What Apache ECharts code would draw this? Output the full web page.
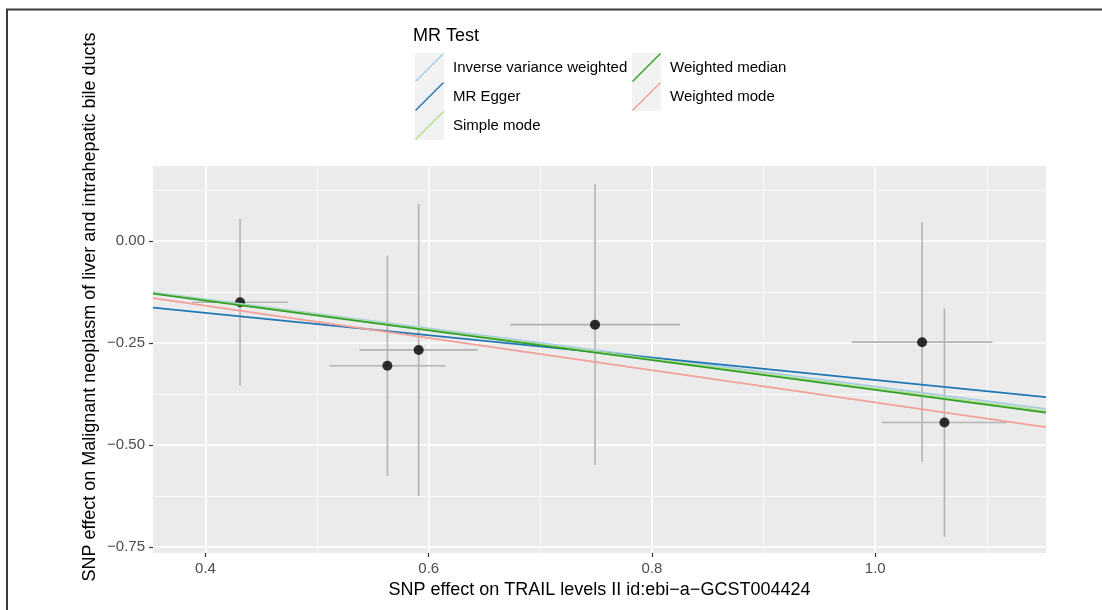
<!DOCTYPE html>
<html>
<head>
<meta charset="utf-8">
<style>
  html, body { margin: 0; padding: 0; background: #fff; }
  #chart { width: 1102px; height: 610px; }
</style>
<script src="https://cdn.jsdelivr.net/npm/echarts@6/dist/echarts.min.js"></script>
</head>
<body>
<div id="chart"></div>
<script>
  // SNP effects (exposure on x, outcome on y) and their standard errors
  const snpX = [0.431, 0.563, 0.591, 0.749, 1.042, 1.062]
  const snpY = [-0.150, -0.306, -0.267, -0.205, -0.248, -0.445]
  const seX = [0.043, 0.052, 0.053, 0.076, 0.063, 0.056]
  const seY = [0.204, 0.270, 0.358, 0.344, 0.294, 0.280]

  // MR methods: slope / intercept of each fitted line
  const methods = ['Inverse variance weighted', 'MR Egger', 'Simple mode', 'Weighted median', 'Weighted mode']
  const slopes = [-0.357, -0.274, -0.362, -0.365, -0.396]
  const intercepts = [0, -0.0666, 0, 0, 0]
  const methodColors = ['#A6CEE3', '#1F78B4', '#B2DF8A', '#33A02C', '#F4A09A']

  // axis ticks
  const xMajor = [0.4, 0.6, 0.8, 1.0]
  const xMinor = [0.5, 0.7, 0.9, 1.1]
  const yMajor = [0, -0.25, -0.5, -0.75]
  const yMinor = [0.125, -0.125, -0.375, -0.625]
  const xMin = 0.353, xMax = 1.153
  const yMin = -0.765, yMax = 0.184

  const FONT = '"Liberation Sans", Arial, Helvetica, sans-serif'
  const fmtY = v => (v < 0 ? '\u2212' : '') + Math.abs(v).toFixed(2)

  const chart = echarts.init(document.getElementById('chart'), null, {renderer: 'canvas'})

  const errData = snpX.map((x, i) => [x, snpY[i], x - seX[i], x + seX[i], snpY[i] - seY[i], snpY[i] + seY[i]])

  const lineSeries = methods.map((name, i) => ({
    name: name,
    type: 'line',
    z: 5,
    showSymbol: false,
    silent: true,
    color: methodColors[i],
    lineStyle: {color: methodColors[i], width: 1.8},
    data: [xMin, xMax].map(x => [x, intercepts[i] + slopes[i] * x])
  }))

  // hidden axis that only draws the thin minor grid lines
  const minorAxis = (minorVals, min, max) => ({
    type: 'value',
    min: min,
    max: max,
    axisLine: {show: false, onZero: false},
    axisTick: {show: false, customValues: minorVals},
    axisLabel: {show: false, customValues: minorVals},
    splitLine: {show: true, lineStyle: {color: '#ffffff', width: 0.8}}
  })

  chart.setOption({
    animation: false,
    backgroundColor: '#ffffff',
    textStyle: {fontFamily: FONT},
    title: {
      text: 'MR Test',
      left: 413,
      top: 27,
      padding: 0,
      textStyle: {fontSize: 18, fontWeight: 'normal', color: '#000', fontFamily: FONT}
    },
    legend: [
      {
        data: methods.slice(0, 3),
        left: 415, top: 53, padding: 0,
        orient: 'vertical',
        itemWidth: 29, itemHeight: 29, itemGap: 0,
        icon: 'path://M0,28 L28,0 L29,1 L1,29 Z',
        textStyle: {fontSize: 15, color: '#000', fontFamily: FONT, padding: [0, 0, 0, 4]}
      },
      {
        data: methods.slice(3),
        left: 632, top: 53, padding: 0,
        orient: 'vertical',
        itemWidth: 29, itemHeight: 29, itemGap: 0,
        icon: 'path://M0,28 L28,0 L29,1 L1,29 Z',
        textStyle: {fontSize: 15, color: '#000', fontFamily: FONT, padding: [0, 0, 0, 4]}
      }
    ],
    graphic: [
      // outer frame
      {type: 'rect', z: -10, shape: {x: 7, y: 9.5, width: 1200, height: 700},
        style: {fill: null, stroke: '#3a3a3a', lineWidth: 2}},
      // legend key backgrounds
      {type: 'rect', z: -5, shape: {x: 415, y: 53, width: 29, height: 87}, style: {fill: '#F2F2F2'}},
      {type: 'rect', z: -5, shape: {x: 632, y: 53, width: 29, height: 58}, style: {fill: '#F2F2F2'}},
      // y axis title
      {type: 'text', x: 90, y: 307, rotation: Math.PI / 2,
        style: {text: 'SNP effect on Malignant neoplasm of liver and intrahepatic bile ducts',
          fontSize: 18, fontFamily: FONT, fill: '#000', align: 'center', verticalAlign: 'middle'}}
    ],
    grid: {
      left: 153, top: 166, width: 893, height: 387,
      show: true, backgroundColor: '#EBEBEB', borderWidth: 0
    },
    xAxis: [
      {
        type: 'value', min: xMin, max: xMax, position: 'bottom',
        name: 'SNP effect on TRAIL levels II id:ebi\u2212a\u2212GCST004424',
        nameLocation: 'middle', nameGap: 25,
        nameTextStyle: {fontSize: 18, color: '#000', fontFamily: FONT},
        axisLine: {show: false, onZero: false},
        axisTick: {show: true, customValues: xMajor, length: 4, lineStyle: {color: '#333', width: 1.2}},
        axisLabel: {customValues: xMajor, margin: 8, fontSize: 15, color: '#4D4D4D', fontFamily: FONT,
          formatter: v => v.toFixed(1)},
        splitLine: {show: true, lineStyle: {color: '#ffffff', width: 1.6}}
      },
      minorAxis(xMinor, xMin, xMax)
    ],
    yAxis: [
      {
        type: 'value', min: yMin, max: yMax, position: 'left',
        axisLine: {show: false, onZero: false},
        axisTick: {show: true, customValues: yMajor, length: 4, lineStyle: {color: '#333', width: 1.2}},
        axisLabel: {customValues: yMajor, margin: 8, fontSize: 15, color: '#4D4D4D', fontFamily: FONT,
          formatter: fmtY},
        splitLine: {show: true, lineStyle: {color: '#ffffff', width: 1.6}}
      },
      minorAxis(yMinor, yMin, yMax)
    ],
    series: [
      {
        type: 'custom',
        z: 2,
        silent: true,
        data: errData,
        renderItem: (params, api) => {
          const c = api.coord([api.value(0), api.value(1)])
          const xl = api.coord([api.value(2), api.value(1)])
          const xh = api.coord([api.value(3), api.value(1)])
          const yl = api.coord([api.value(0), api.value(4)])
          const yh = api.coord([api.value(0), api.value(5)])
          const st = {stroke: '#B3B3B3', lineWidth: 1.6}
          return {
            type: 'group',
            children: [
              {type: 'line', shape: {x1: xl[0], y1: c[1], x2: xh[0], y2: c[1]}, style: st},
              {type: 'line', shape: {x1: c[0], y1: yl[1], x2: c[0], y2: yh[1]}, style: st}
            ]
          }
        }
      },
      {
        type: 'scatter',
        z: 3,
        silent: true,
        symbolSize: 10,
        itemStyle: {color: '#000'},
        data: snpX.map((x, i) => [x, snpY[i]])
      }
    ].concat(lineSeries)
  })
</script>
</body>
</html>
